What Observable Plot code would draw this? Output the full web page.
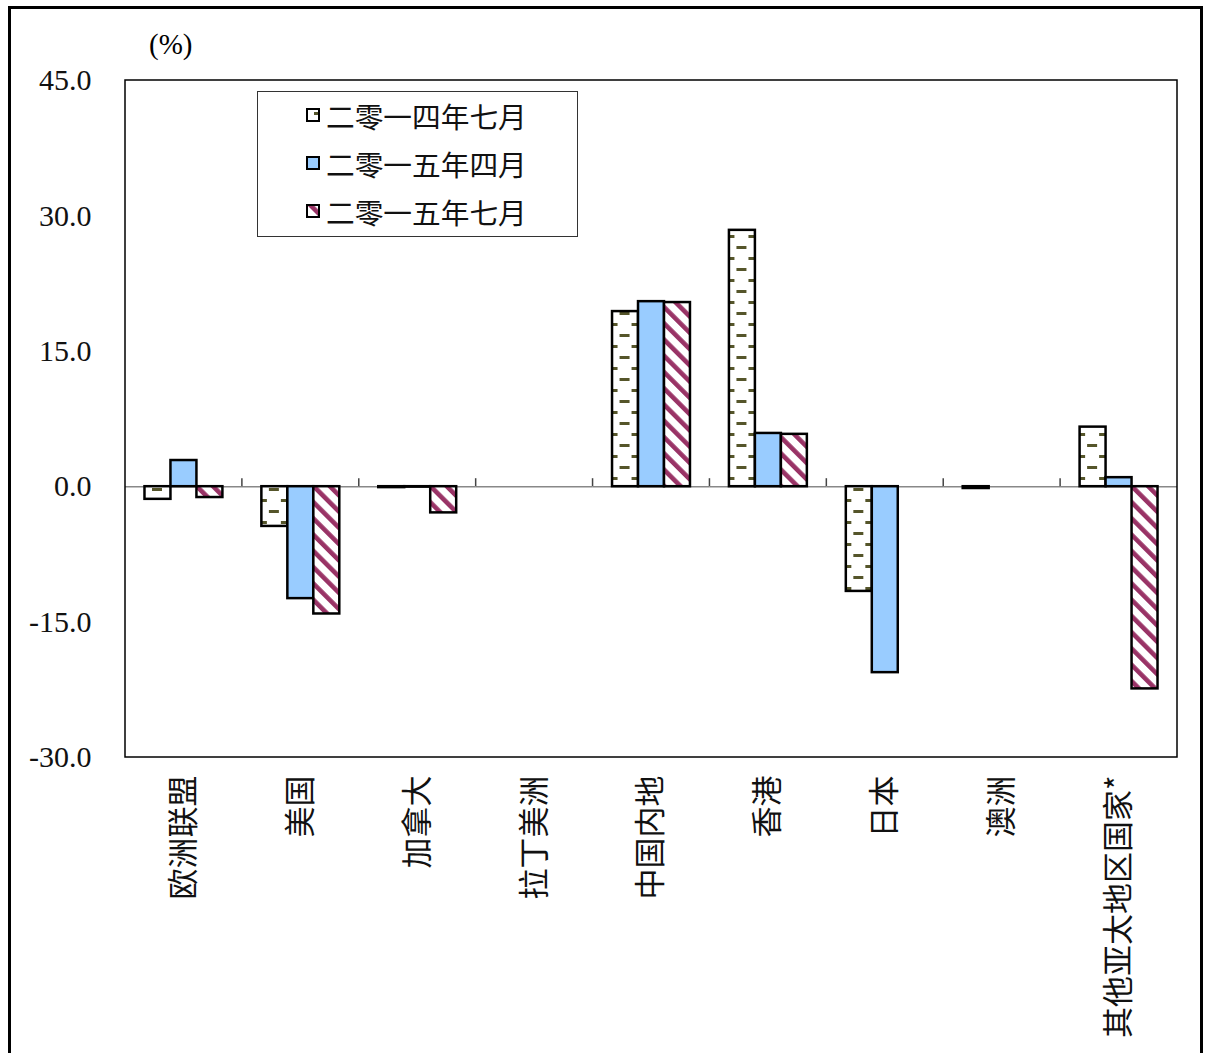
<!DOCTYPE html>
<html><head><meta charset="utf-8">
<script src="https://cdn.jsdelivr.net/npm/d3@7"></script>
<script src="https://cdn.jsdelivr.net/npm/@observablehq/plot@0.6"></script>
<style>
body{margin:0;background:#fff;width:1210px;height:1053px;overflow:hidden;position:relative;font-family:"Liberation Serif","Noto Sans CJK SC",serif;}
#frame{position:absolute;left:8px;top:6px;width:1195px;height:1100px;border:3px solid #000;box-sizing:border-box;}
#chart{position:absolute;left:0;top:0;}
#unit{position:absolute;left:149px;top:26px;font-size:29px;line-height:36px;}
#legend{position:absolute;left:257px;top:91px;width:321px;height:146px;border:1px solid #333;box-sizing:border-box;background:#fff;}
.item{position:absolute;left:48px;height:34px;display:flex;align-items:center;font-size:28.7px;font-family:"Noto Sans CJK SC",sans-serif;color:#111;}
.item svg{margin-right:6px;}
</style></head>
<body>
<div id="frame"></div>
<div id="chart"></div>
<div id="unit">(%)</div>
<div id="legend"></div>
<script>
const categories = ["欧洲联盟","美国","加拿大","拉丁美洲","中国内地","香港","日本","澳洲","其他亚太地区国家*"];
const seriesNames = ["二零一四年七月","二零一五年四月","二零一五年七月"];
const jul2014 = [-1.4, -4.4, -0.1, 0, 19.4, 28.4, -11.6, -0.2, 6.6];
const apr2015 = [2.9, -12.4, -0.05, 0, 20.5, 5.9, -20.6, 0, 1.0];
const jul2015 = [-1.2, -14.1, -2.9, 0, 20.4, 5.8, 0, 0, -22.4];
const yTicks = [-30, -15, 0, 15, 30, 45];
const fills = ["url(#pDash)", "#99CCFF", "url(#pDiag)"];

const seriesValues = [jul2014, apr2015, jul2015];
const data = categories.flatMap((c, i) => seriesNames.map((s, j) => ({cat: c, series: s, value: seriesValues[j][i]})));

const chart = Plot.plot({
  width: 1210, height: 1053,
  marginLeft: 125, marginRight: 33, marginTop: 80, marginBottom: 296,
  style: {fontFamily: '"Liberation Serif","Noto Sans CJK SC",serif', fontSize: "30px", color: "#000", background: "transparent", overflow: "visible"},
  fx: {domain: categories, padding: 0, round: false, label: null},
  x: {domain: seriesNames, paddingInner: 0, paddingOuter: 0.75, round: false, axis: null},
  y: {domain: [-30, 45], label: null},
  color: {domain: seriesNames, range: fills},
  marks: [
    Plot.ruleY([0], {stroke: "#888", strokeWidth: 1.5}),
    Plot.barY(data, {fx: "cat", x: "series", y: "value", fill: "series", stroke: "#000", strokeWidth: 2.5, inset: 0}),
    Plot.axisY({ticks: yTicks, tickSize: 0, tickPadding: 34, tickFormat: d => d.toFixed(1), fontSize: 30, fill: "#111"}),
    Plot.axisFx({anchor: "bottom", rotate: -90, textAnchor: "end", lineAnchor: "middle", tickSize: 0, tickPadding: 18, label: null,
      fontSize: 31, fontFamily: '"Noto Sans CJK SC",sans-serif', fill: "#111"})
  ]
});
document.getElementById("chart").appendChild(chart);

const svg = d3.select(chart);
const defs = svg.insert("defs", ":first-child");
const pd = defs.append("pattern").attr("id", "pDash").attr("patternUnits", "userSpaceOnUse").attr("width", 24).attr("height", 22);
pd.append("rect").attr("width", 24).attr("height", 22).attr("fill", "#fff");
pd.append("rect").attr("x", 8).attr("y", 4).attr("width", 10).attr("height", 3).attr("fill", "#55552a");
pd.append("rect").attr("x", 20).attr("y", 15).attr("width", 10).attr("height", 3).attr("fill", "#55552a");
pd.append("rect").attr("x", -4).attr("y", 15).attr("width", 10).attr("height", 3).attr("fill", "#55552a");
const pg = defs.append("pattern").attr("id", "pDiag").attr("patternUnits", "userSpaceOnUse").attr("width", 11.5).attr("height", 11.5).attr("patternTransform", "rotate(-45)");
pg.append("rect").attr("width", 11.5).attr("height", 11.5).attr("fill", "#fff");
pg.append("rect").attr("width", 4.6).attr("height", 11.5).attr("fill", "#993366");

// plot-area frame and category boundary ticks, from the library's scales
const fx = chart.scale("fx"), y = chart.scale("y");
const [x0, x1] = fx.range, [yb, yt] = y.range;
const y0 = y.apply(0);
const g = svg.append("g");
g.selectAll("line").data(categories.slice(1)).join("line")
  .attr("x1", d => fx.apply(d)).attr("x2", d => fx.apply(d))
  .attr("y1", y0).attr("y2", y0 - 8).attr("stroke", "#444").attr("stroke-width", 1.5);
g.append("rect").attr("x", x0).attr("y", yt).attr("width", x1 - x0).attr("height", yb - yt)
  .attr("fill", "none").attr("stroke", "#000").attr("stroke-width", 1.5);

// legend
const legend = d3.select("#legend");
seriesNames.forEach((s, i) => {
  const it = legend.append("div").attr("class", "item").style("top", (6 + i * 48) + "px");
  const sw = it.append("svg").attr("width", 14).attr("height", 14);
  sw.append("rect").attr("x", 1).attr("y", 1).attr("width", 12).attr("height", 12).attr("fill", fills[i]).attr("stroke", "#000").attr("stroke-width", 2);
  it.append("span").text(s);
});
</script>
</body></html>
